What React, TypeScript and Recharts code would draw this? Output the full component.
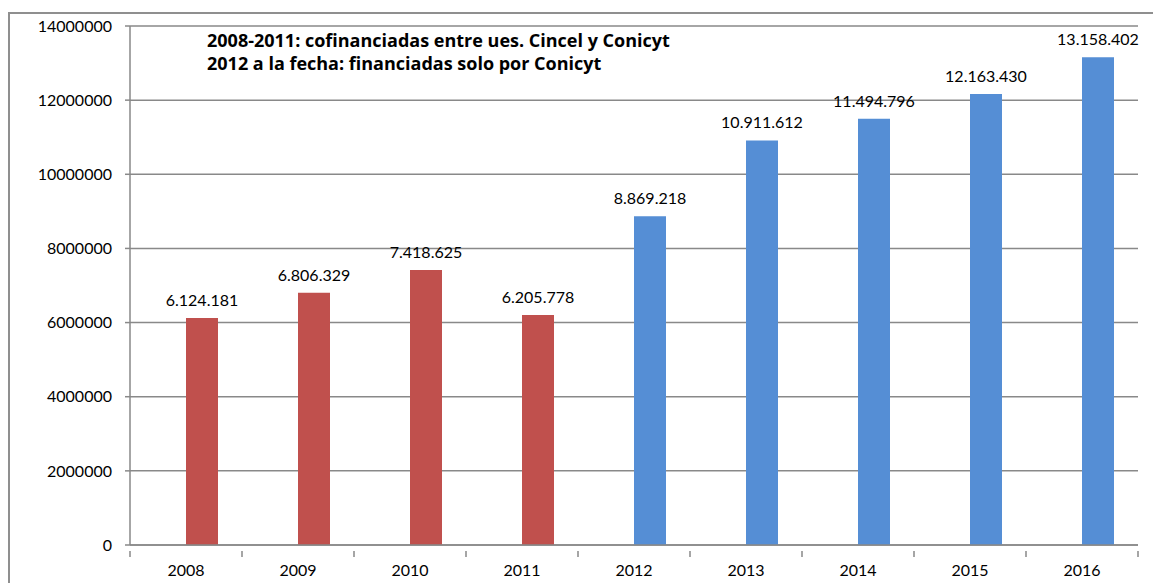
import React from "react";
import { BarChart, Bar, XAxis, YAxis, CartesianGrid, LabelList, Cell } from "recharts";

const years = ["2008", "2009", "2010", "2011", "2012", "2013", "2014", "2015", "2016"];
const amounts = [6124181, 6806329, 7418625, 6205778, 8869218, 10911612, 11494796, 12163430, 13158402];
const cofinanced = [true, true, true, true, false, false, false, false, false];
const yTicks = [0, 2000000, 4000000, 6000000, 8000000, 10000000, 12000000, 14000000];
const titleLines = [
  "2008-2011: cofinanciadas entre ues. Cincel y Conicyt",
  "2012 a la fecha: financiadas solo por Conicyt",
];

const W = 1153;
const H = 583;
const M = { top: 26, right: 15, left: 10, bottom: 8 };
const Y_W = 120;
const X_H = 30;
const PLOT_W = W - M.left - M.right - Y_W;
const BAND = PLOT_W / years.length;

const RED = "#C0504D";
const BLUE = "#558ED5";
const GRID = "#898989";
const FONT = "Lato, 'Open Sans', sans-serif";

const data = years.map((y, i) => ({ year: y, spacer: null, value: amounts[i], co: cofinanced[i] }));

const fmt = (v: number) => String(Math.round(v)).replace(/\B(?=(\d{3})+(?!\d))/g, ".");

const XTick = (props: any) => {
  const { x, y, payload, index } = props;
  const ax = y - 2;
  return (
    <g>
      <line x1={x - BAND / 2} x2={x - BAND / 2} y1={ax} y2={ax + 6} stroke={GRID} strokeWidth={1.5} />
      {index === years.length - 1 && (
        <line x1={x + BAND / 2} x2={x + BAND / 2} y1={ax} y2={ax + 6} stroke={GRID} strokeWidth={1.5} />
      )}
      <text x={x} y={y + 23} textAnchor="middle" fill="#000" fontSize={16} fontFamily={FONT}>
        {payload.value}
      </text>
    </g>
  );
};

export default function App() {
  return (
    <div style={{ position: "absolute", left: 0, top: 0, width: W, height: H, overflow: "hidden", background: "#fff" }}>
      <div
        style={{
          position: "absolute",
          left: 8,
          top: 12,
          width: W + 20,
          height: H + 20,
          border: "2px solid #8f8f8f",
          boxSizing: "border-box",
        }}
      />
      <div style={{ position: "absolute", left: 0, top: 0 }}>
        <BarChart width={W} height={H} data={data} margin={M} barGap={0}>
          <CartesianGrid vertical={false} stroke={GRID} strokeWidth={1.5} />
          <XAxis
            dataKey="year"
            height={X_H}
            axisLine={{ stroke: GRID, strokeWidth: 1.5 }}
            tickLine={false}
            tickMargin={2}
            tick={<XTick />}
            interval={0}
          />
          <YAxis
            width={Y_W}
            domain={[0, 14000000]}
            ticks={yTicks}
            interval={0}
            axisLine={{ stroke: GRID, strokeWidth: 1.5 }}
            tickLine={{ stroke: GRID, strokeWidth: 1.5 }}
            tickSize={5}
            tickMargin={13}
            tick={{ fill: "#000", fontSize: 16, fontFamily: FONT }}
          />
          <Bar dataKey="spacer" barSize={32} isAnimationActive={false} fill="transparent" />
          <Bar dataKey="value" barSize={32} isAnimationActive={false}>
            {data.map((d, i) => (
              <Cell key={i} fill={d.co ? RED : BLUE} />
            ))}
            <LabelList
              dataKey="value"
              position="top"
              offset={12}
              formatter={(v: any) => fmt(Number(v))}
              style={{ fill: "#000", fontSize: 16, fontFamily: FONT }}
            />
          </Bar>
        </BarChart>
      </div>
      <div
        style={{
          position: "absolute",
          left: 207,
          top: 29,
          fontFamily: "'Open Sans', sans-serif",
          fontWeight: 700,
          fontSize: 18,
          lineHeight: "23px",
          color: "#000",
          whiteSpace: "nowrap",
        }}
      >
        {titleLines.map((t, i) => (
          <div key={i}>{t}</div>
        ))}
      </div>
    </div>
  );
}
